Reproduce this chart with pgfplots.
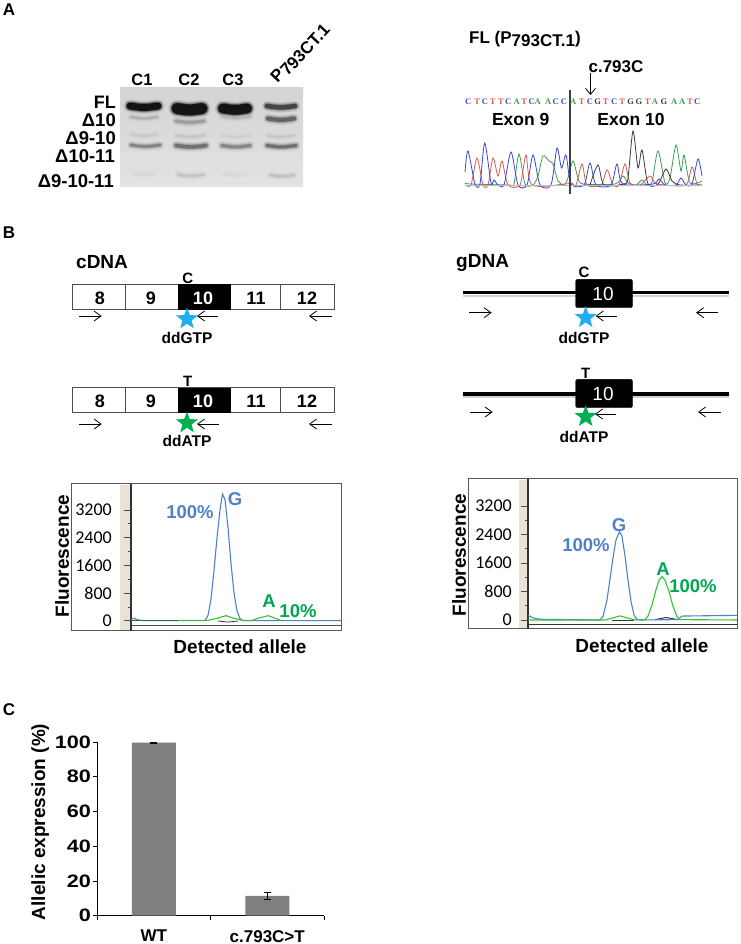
\documentclass[border=0pt]{standalone}
\usepackage{fontspec}
\usepackage{pgfplots}
\pgfplotsset{compat=1.18}
\usetikzlibrary{arrows.meta}
\setmainfont{Liberation Sans}
\newfontfamily\calib{Carlito}
\newfontfamily\widefont[FakeStretch=1.2]{Liberation Sans}
\newfontfamily\seqfont{Liberation Serif}

\definecolor{stblue}{HTML}{1EAEEE}
\definecolor{stgreen}{HTML}{00B050}
\definecolor{pkblue}{HTML}{4F81C9}
\definecolor{pklabel}{HTML}{00A651}
\definecolor{framegray}{HTML}{595959}
\definecolor{beige}{HTML}{E8E3D6}
\definecolor{barc}{HTML}{7F7F7F}
\definecolor{trblue}{HTML}{3B42D6}
\definecolor{trred}{HTML}{E2574F}
\definecolor{trgreen}{HTML}{3E9B55}
\definecolor{trblack}{HTML}{3A3A3A}

% filled five pointed star
\pgfdeclareplotmark{fivestar}{%
  \pgfpathmoveto{\pgfpointpolar{90}{\pgfplotmarksize}}%
  \pgfpathlineto{\pgfpointpolar{126}{0.42\pgfplotmarksize}}%
  \pgfpathlineto{\pgfpointpolar{162}{\pgfplotmarksize}}%
  \pgfpathlineto{\pgfpointpolar{198}{0.42\pgfplotmarksize}}%
  \pgfpathlineto{\pgfpointpolar{234}{\pgfplotmarksize}}%
  \pgfpathlineto{\pgfpointpolar{270}{0.42\pgfplotmarksize}}%
  \pgfpathlineto{\pgfpointpolar{306}{\pgfplotmarksize}}%
  \pgfpathlineto{\pgfpointpolar{342}{0.42\pgfplotmarksize}}%
  \pgfpathlineto{\pgfpointpolar{18}{\pgfplotmarksize}}%
  \pgfpathlineto{\pgfpointpolar{54}{0.42\pgfplotmarksize}}%
  \pgfpathclose\pgfusepathqfill}

% text at picture pixels
\newcommand{\txt}[5][center]{\node[anchor=#1,inner sep=0pt,font=\fontsize{#4}{#4}\selectfont\bfseries] at (axis cs:#2,#3) {#5};}
% gel band: x from, x to, y, thickness, gray level
\newcommand{\band}[5]{%
  \addplot[smooth,line cap=round,black!#5,line width=#4pt+6pt,opacity=.1] coordinates {(#1,#3-1.5) ({(#1+#2)/2},#3) (#2,#3-1.5)};
  \addplot[smooth,line cap=round,black!#5,line width=#4pt+3.5pt,opacity=.2] coordinates {(#1,#3-1.5) ({(#1+#2)/2},#3) (#2,#3-1.5)};
  \addplot[smooth,line cap=round,black!#5,line width=#4pt+1.5pt,opacity=.35] coordinates {(#1,#3-1.5) ({(#1+#2)/2},#3) (#2,#3-1.5)};
  \addplot[smooth,line cap=round,black!#5,line width=#4pt,opacity=.8] coordinates {(#1,#3-1.5) ({(#1+#2)/2},#3) (#2,#3-1.5)};}
\newcommand{\arr}[3]{\addplot[line width=.8pt,-{Straight Barb[length=7pt,width=10pt]}] coordinates {(#1,#3) (#2,#3)};}

\pgfplotsset{
  pxaxis/.style={scale only axis,clip=false,axis line style={draw=none},ticks=none},
  fluoaxis/.style={scale only axis,clip=false,axis x line=none,axis y line=left,
    axis line style={-,black!80,line width=1.1pt},
    ytick={0,800,1600,2400,3200},minor y tick num=1,tick align=outside,
    major tick length=7pt,minor tick length=3pt,tick style={black!70,line width=.6pt},
    /pgf/number format/assume math mode=true,/pgf/number format/1000 sep={},
    yticklabel style={font=\fontsize{18}{18}\selectfont\calib,inner sep=1pt}},
}

\begin{document}
\begin{tikzpicture}
\path[use as bounding box] (0,0) rectangle (740pt,944pt);

% A: gel, coordinates are picture pixels
\begin{axis}[pxaxis,at={(120pt,757pt)},width=183pt,height=99pt,xmin=120,xmax=303,ymin=88,ymax=187,y dir=reverse,clip=true,
  axis background/.style={shade,top color=black!17,bottom color=black!11}]
\band{130}{158}{107.5}{7}{100}
\band{177}{202}{110}{11}{100}
\band{223}{247}{110}{10}{100}
\band{267}{295}{107.5}{4.5}{78}
\band{131}{157}{118.5}{2}{32}
\band{176}{204}{122.5}{3}{40}
\band{222}{250}{118}{2}{30}
\band{268}{294}{120}{4}{65}
\band{132}{156}{136}{1.5}{22}
\band{176}{204}{137}{1.5}{24}
\band{222}{250}{137}{1}{20}
\band{268}{294}{137}{1.5}{23}
\band{131}{160}{146.5}{2.5}{52}
\band{176}{206}{147}{3.5}{60}
\band{222}{250}{147}{3}{50}
\band{267}{296}{147}{3}{60}
\band{135}{153}{175}{1}{17}
\band{178}{204}{176}{2}{24}
\band{225}{245}{175}{1}{17}
\band{270}{294}{176.5}{2}{26}
\end{axis}

% A: sequence trace, x in picture pixels, y = pixels above the baseline
\begin{axis}[pxaxis,at={(460pt,758pt)},width=250pt,height=60pt,xmin=460,xmax=710,ymin=0,ymax=60]
\addplot[smooth,tension=.45,trgreen,line width=.8pt] coordinates {(465,3)(470,2)(510,1)(514,2)(519,32)(525,2)(533,1)(538,10)(543,30)(549,25)(553,22)(558,5)(564,1)(568,8)(573,25)(578,8)(583,2)(615,2)(623,10)(628,3)(636,1)(642,6)(647,1)(652,4)(658,35)(665,3)(670,8)(676,41)(681,15)(684,31)(690,3)(702,5)};
\addplot[smooth,tension=.45,trred,line width=.8pt] coordinates {(465,1)(471,1)(477,28)(483,1)(488,1)(493,28)(498,10)(502,25)(508,1)(520,1)(526,31)(532,1)(565,2)(572,3)(576,1)(582,22)(587,1)(601,1)(607,16)(613,1)(619,1)(625,22)(630,3)(640,1)(650,10)(655,3)(665,1)(686,1)(692,19)(697,2)(702,1)};
\addplot[smooth,tension=.45,trblack,line width=.8pt] coordinates {(590,1)(598,21)(604,1)(624,2)(628,8)(633,55)(638,18)(642,36)(648,2)(658,2)(666,17)(672,5)(680,1)(702,1)};
\addplot[smooth,tension=.45,trblue,line width=.8pt] coordinates {(465,14)(468,35)(475,2)(480,2)(484.7,43)(491,3)(494,6)(498,1)(504,1)(511,34)(518,1)(527,1)(533,31)(540,1)(551,1)(557,38)(561.5,18)(566,31)(571,2)(584,1)(590,23)(596,1)(611,1)(617,22)(623,2)(653,2)(659,7)(665,1)(676,1)(681,8)(686,1)(692,2)(698,27)(702,10)};
\addplot[black!25!trblue!35,line width=1pt] coordinates {(465,0)(702,0)};
\end{axis}

% B: fluorescence, cDNA
\begin{axis}[scale only axis,at={(71pt,313pt)},width=270pt,height=147pt,xmin=71,xmax=341,ymin=631,ymax=484,y dir=reverse,ticks=none,axis line style={framegray,line width=1pt}]
\addplot[fill=beige,draw=none] coordinates {(120,484.5)(131,484.5)(131,630.5)(120,630.5)} --cycle;
\end{axis}
\begin{axis}[fluoaxis,at={(131pt,313pt)},width=210pt,height=147pt,xmin=131,xmax=341,ymin=-298,ymax=3950,yticklabel style={xshift=-11pt}]
\addplot[black!70,line width=.8pt] coordinates {(131,-135)(341,-135)};
\addplot[trblack,line width=.8pt] coordinates {(218,-10)(228,-40)(238,-10)};
\addplot[pkblue,line width=1.1pt] coordinates {(131,30)(134,70)(138,20)(145,0)(205,0)(208,150)(211,620)(214,1450)(217,2400)(220,3200)(222.5,3660)(225,3500)(228,2700)(231,1650)(234,800)(237,280)(240,60)(243,0)(341,0)};
\addplot[black!30!trgreen,line width=1.4pt] coordinates {(131,10)(178,10)};
\addplot[green!70!black!80,line width=1.1pt] coordinates {(178,10)(208,10)(216,60)(226,145)(234,70)(243,5)(252,5)(258,70)(268,145)(275,70)(281,5)};
\end{axis}

% B: fluorescence, gDNA
\begin{axis}[scale only axis,at={(468pt,315pt)},width=269pt,height=150pt,xmin=468,xmax=737,ymin=629,ymax=479,y dir=reverse,ticks=none,axis line style={framegray,line width=1pt}]
\addplot[fill=beige,draw=none] coordinates {(519,479.5)(528,479.5)(528,628.5)(519,628.5)} --cycle;
\end{axis}
\begin{axis}[fluoaxis,at={(528pt,315pt)},width=209pt,height=150pt,xmin=528,xmax=737,ymin=-253,ymax=3958,yticklabel style={xshift=-8pt}]
\addplot[black!80,line width=1pt] coordinates {(528,-140)(737,-140)};
\addplot[trblack,line width=1pt] coordinates {(612,-5)(622,-5)(634,-5)};
\addplot[trblack,line width=1pt] coordinates {(655,10)(666,70)(678,10)};
\addplot[pkblue,line width=1.1pt] coordinates {(528,130)(533,60)(540,20)(600,0)(603,100)(607,560)(610,1150)(613,1750)(616,2250)(619.5,2480)(622,2350)(625,1800)(628,1120)(631,520)(634,140)(637,20)(640,0)(678,10)(682,110)(737,130)};
\addplot[green!70!black!80,line width=1.1pt] coordinates {(528,0)(605,0)(612,50)(620,115)(628,50)(636,0)(645,10)(648,110)(652,420)(656,850)(659,1120)(662,1216)(665,1120)(669,800)(673,380)(677,90)(680,10)(737,0)};
\end{axis}

% C: allelic expression
\begin{axis}[scale only axis,at={(97pt,28.3pt)},width=227pt,height=173.7pt,
  axis x line=bottom,axis y line=left,axis line style={-,black,line width=.9pt},
  xmin=-0.5,xmax=1.5,ymin=0,ymax=100,
  xtick={-0.5,0.5,1.5},xticklabels={},
  extra x ticks={0,1},extra x tick labels={WT,c.793C>T},
  extra x tick style={major tick length=0pt,xticklabel style={font=\fontsize{17}{17}\selectfont\bfseries,yshift=-11pt}},
  ytick={0,20,40,60,80,100},tick align=outside,major tick length=4pt,tick style={black,line width=.8pt},
  /pgf/number format/assume math mode=true,
  yticklabel style={font=\fontsize{18}{18}\selectfont\widefont\bfseries,inner sep=1pt,xshift=-1pt},
  ylabel={Allelic expression (\%)},
  ylabel style={font=\fontsize{19}{19}\selectfont\bfseries,at={(axis description cs:-0.25,0.54)},anchor=center},
]
\addplot[ybar,bar width=44pt,fill=barc,draw=none,error bars/.cd,y dir=both,y explicit,
  error bar style={black,line width=.8pt},error mark options={black,rotate=90,mark size=3.5pt,line width=.8pt}]
  coordinates {(0,99.7)+-(0,0.3) (1,11.4)+-(0,2.2)};
\end{axis}

% everything else, in picture pixels
\begin{axis}[pxaxis,at={(0pt,0pt)},width=740pt,height=944pt,xmin=0,xmax=740,ymin=0,ymax=944,y dir=reverse]
% chromatogram marker
\addplot[black!75,line width=1.2pt] coordinates {(570,90)(570,194)};
\addplot[black,line width=.8pt,-{Straight Barb[length=6pt,width=10pt]}] coordinates {(590.5,73)(590.5,95)};
% called bases
\pgfplotsset{basestyle/.style={only marks,mark=none,nodes near coords={#1},nodes near coords align={center},
  every node near coord/.append style={font=\fontsize{8.5}{8.5}\selectfont\seqfont\bfseries,inner sep=0pt,anchor=center}}}
\addplot[basestyle=C,every node near coord/.append style={text=trblue}] coordinates {(468.3,102)(485,102)(508.3,102)(531.7,102)(555.7,102)(564,102)(590,102)(614.3,102)(697.3,102)};
\addplot[basestyle=T,every node near coord/.append style={text=trred}] coordinates {(477.3,102)(492.7,102)(501,102)(524.3,102)(581.7,102)(605.7,102)(622.3,102)(647.7,102)(690,102)};
\addplot[basestyle=A,every node near coord/.append style={text=trgreen}] coordinates {(516.7,102)(537.7,102)(548.3,102)(573.3,102)(655,102)(674.3,102)(682.3,102)};
\addplot[basestyle=G,every node near coord/.append style={text=trblack}] coordinates {(597.7,102)(630.7,102)(639,102)(664,102)};

% cDNA exon boxes
\addplot[draw=black!70,fill=white,line width=1pt] coordinates {(72.7,284)(334,284)(334,309.3)(72.7,309.3)} --cycle;
\addplot[draw=black!70,fill=white,line width=1pt] coordinates {(72.7,387.7)(334,387.7)(334,412.3)(72.7,412.3)} --cycle;
\addplot[black!70,line width=1pt] coordinates {(125,284)(125,309.3)};
\addplot[black!70,line width=1pt] coordinates {(280.7,284)(280.7,309.3)};
\addplot[black!70,line width=1pt] coordinates {(125,387.7)(125,412.3)};
\addplot[black!70,line width=1pt] coordinates {(280.7,387.7)(280.7,412.3)};
\addplot[fill=black,draw=black] coordinates {(177.7,284)(230,284)(230,309.3)(177.7,309.3)} --cycle;
\addplot[fill=black,draw=black] coordinates {(177.7,387.7)(230,387.7)(230,412.3)(177.7,412.3)} --cycle;
\arr{79}{101.7}{316}\arr{218}{197}{316}\arr{331.7}{309}{316}
\arr{79}{101.7}{424}\arr{219}{197}{424}\arr{331.7}{309}{424}

% gDNA lines and exon boxes
\addplot[black!18,line width=2.2pt] coordinates {(463,295.6)(729,295.6)};
\addplot[black!18,line width=2.2pt] coordinates {(463,396.9)(729,396.9)};
\addplot[black,line width=3.2pt] coordinates {(463,292.7)(729,292.7)};
\addplot[black,line width=3.2pt] coordinates {(463,394)(729,394)};
\addplot[fill=black,draw=black,rounded corners=1.5pt] coordinates {(575.7,279.3)(632.3,279.3)(632.3,307.7)(575.7,307.7)} --cycle;
\addplot[fill=black,draw=black,rounded corners=1.5pt] coordinates {(575.7,379.3)(632.3,379.3)(632.3,407.7)(575.7,407.7)} --cycle;
\arr{469}{491.7}{312.7}\arr{617}{595.7}{316}\arr{718}{696}{312.7}
\arr{470}{492.7}{412}\arr{615.7}{595}{414}\arr{721}{698}{412}

% ddNTP stars
\addplot[only marks,mark=fivestar,mark size=11.5pt,color=stblue] coordinates {(187,319)(585.7,317.7)};
\addplot[only marks,mark=fivestar,mark size=11.5pt,color=stgreen] coordinates {(187,423)(585.7,416.7)};

% panel letters
\txt{9}{10}{17}{A}
\txt{9}{233}{17}{B}
\txt{9}{710}{17}{C}
% gel labels
\txt{142}{80}{16.5}{C1}
\txt{189}{80}{16.5}{C2}
\txt{233}{80}{16.5}{C3}
\node[rotate=47,inner sep=0pt,font=\fontsize{17}{17}\selectfont\bfseries] at (axis cs:300,53) {P\raisebox{-3pt}{793CT.1}};
\txt[east]{116}{102}{18}{FL}
\txt[east]{116}{120}{18.5}{Δ10}
\txt[east]{116}{138}{18.5}{Δ9-10}
\txt[east]{115}{156}{18.5}{Δ10-11}
\txt[east]{114}{181}{18.5}{Δ9-10-11}
% chromatogram labels
\txt[west]{469}{39}{17}{FL (P\raisebox{-3pt}{793CT.1})}
\txt{616}{67}{17}{c.793C}
\txt{520.7}{119}{17.5}{Exon 9}
\txt{631}{119}{17.5}{Exon 10}
% schematic labels
\txt[west]{76}{262}{19}{cDNA}
\txt[west]{456}{263}{19}{gDNA}
\txt{187.7}{278}{15}{C}
\txt{187.7}{381}{15}{T}
\txt{584}{272}{15}{C}
\txt{585.7}{373}{15}{T}
\txt{100}{298}{18}{8}
\txt{151}{298}{18}{9}
\txt{203}{298}{18}{\textcolor{white}{10}}
\txt{256}{298}{18}{11}
\txt{307}{298}{18}{12}
\txt{100}{401}{18}{8}
\txt{151}{401}{18}{9}
\txt{203}{401}{18}{\textcolor{white}{10}}
\txt{256}{401}{18}{11}
\txt{307}{401}{18}{12}
\node[inner sep=0pt,text=white,font=\fontsize{19}{19}\selectfont] at (axis cs:603,294) {10};
\node[inner sep=0pt,text=white,font=\fontsize{19}{19}\selectfont] at (axis cs:603,394) {10};
\txt{187}{338}{15.5}{ddGTP}
\txt{187}{441}{15.5}{ddATP}
\txt{584}{338}{15.5}{ddGTP}
\txt{584}{436.7}{15.5}{ddATP}
% fluorescence labels
\node[rotate=90,inner sep=0pt,font=\fontsize{19}{19}\selectfont\bfseries] at (axis cs:62,556) {Fluorescence};
\node[rotate=90,inner sep=0pt,font=\fontsize{19}{19}\selectfont\bfseries] at (axis cs:459,555) {Fluorescence};
\txt{240}{647}{19}{Detected allele}
\txt{642}{646}{19}{Detected allele}
\txt{190}{512}{18.5}{\textcolor{pkblue}{100\%}}
\txt{235}{499}{18.5}{\textcolor{pkblue}{G}}
\txt{269}{600.7}{18.5}{\textcolor{pklabel}{A}}
\txt{298}{611}{18.5}{\textcolor{pklabel}{10\%}}
\txt{586}{545}{18.5}{\textcolor{pkblue}{100\%}}
\txt{619}{525}{18.5}{\textcolor{pkblue}{G}}
\txt{663}{569}{18.5}{\textcolor{pklabel}{A}}
\txt{693}{586}{18.5}{\textcolor{pklabel}{100\%}}
\end{axis}
\end{tikzpicture}
\end{document}
